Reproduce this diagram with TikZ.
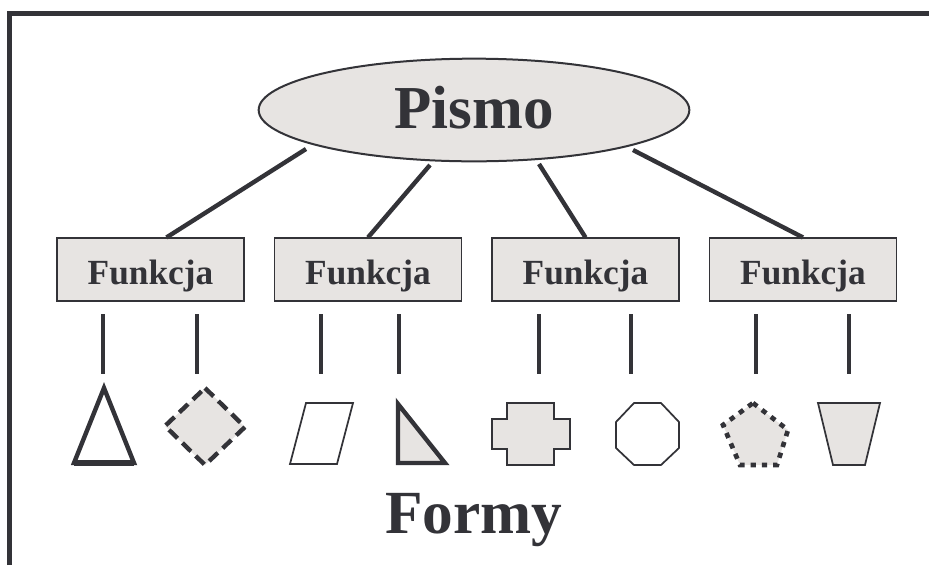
\documentclass[tikz,border=0pt]{standalone}
\usepackage{fontspec}
\setmainfont{Liberation Serif}
\usepackage{tikz}
\usetikzlibrary{calc,shapes.geometric}
\definecolor{ink}{RGB}{51,51,56}
\definecolor{paper}{RGB}{231,228,226}

\begin{document}
\begin{tikzpicture}[x=0.75pt,y=-0.75pt,
    every node/.style={text=ink},
    heavy/.style={draw=ink,line width=3.3pt},
    light/.style={draw=ink,line width=1.3pt},
    func/.style={rectangle,draw=ink,line width=1.1pt,fill=paper,minimum width=140pt,minimum height=47pt,inner sep=0pt,
                 text height=21.75pt,text depth=0pt,font=\bfseries\fontsize{26.5}{30}\selectfont}]
    \useasboundingbox (0,0) rectangle (929,565);
    % frame
    \draw[ink,line width=3.75pt] (9.5,565) -- (9.5,13.5) -- (929,13.5);
    \node[ellipse,draw=ink,line width=1.5pt,fill=paper,minimum width=323pt,minimum height=77pt,inner sep=0pt,
          text height=27pt,text depth=0pt,font=\bfseries\fontsize{45.75}{50}\selectfont](pismo)at(474,110){Pismo};
    \node[func](f1)at(150.5,269.5){Funkcja};
    \node[func](f2)at(368,269.5){Funkcja};
    \node[func](f3)at(585.5,269.5){Funkcja};
    \node[func](f4)at(803,269.5){Funkcja};
    \draw[heavy] ($(pismo.center)+(-168,39)$) -- ($(f1.north)+(16,0)$);
    \draw[heavy] ($(pismo.center)+(-44,55)$) -- (f2.north);
    \draw[heavy] ($(pismo.center)+(65,54)$) -- (f3.north);
    \draw[heavy] ($(pismo.center)+(159,40)$) -- (f4.north);
    % stems
    \draw[heavy] ($(f1.south)+(-47.5,12.5)$) -- ++(0,60);
    \draw[heavy] ($(f1.south)+(46.5,12.5)$) -- ++(0,60);
    \draw[heavy] ($(f2.south)+(-47,12.5)$) -- ++(0,60);
    \draw[heavy] ($(f2.south)+(31,12.5)$) -- ++(0,60);
    \draw[heavy] ($(f3.south)+(-46.5,12.5)$) -- ++(0,60);
    \draw[heavy] ($(f3.south)+(45.5,12.5)$) -- ++(0,60);
    \draw[heavy] ($(f4.south)+(-47,12.5)$) -- ++(0,60);
    \draw[heavy] ($(f4.south)+(46,12.5)$) -- ++(0,60);
    % shapes
    \draw[heavy,fill=white] (104,388) -- (134,463) -- (74,463) -- cycle;
    \draw[ink,line width=4pt] (74,463) -- (134,463);
    \draw[heavy,fill=paper,dash pattern=on 9pt off 5pt] (205,388) -- (245,427) -- (205,465) -- (165,426) -- cycle;
    \draw[light,fill=white] (306,403) -- (353,403) -- (337,464) -- (290,464) -- cycle;
    \draw[heavy,fill=paper] (398,404) -- (445,463) -- (398,463) -- cycle;
    \draw[light,fill=paper] (507,403) -- (554,403) -- (554,419) -- (570,419) -- (570,449) -- (554,449) -- (554,465)
        -- (507,465) -- (507,449) -- (492,449) -- (492,419) -- (507,419) -- cycle;
    \draw[light,fill=white] (634,403) -- (661,403) -- (679,422) -- (679,448) -- (661,465) -- (634,465) -- (616,448) -- (616,422) -- cycle;
    \draw[ink,line width=3.5pt,fill=paper,dash pattern=on 4pt off 4.5pt] (753,403) -- (788,430) -- (777,465) -- (740,465) -- (723,425) -- cycle;
    \draw[light,fill=paper] (818,403) -- (880,403) -- (865,465) -- (833,465) -- cycle;
    \node[anchor=base,font=\bfseries\fontsize{46}{50}\selectfont](formy)at(474,533){Formy};
\end{tikzpicture}
\end{document}
